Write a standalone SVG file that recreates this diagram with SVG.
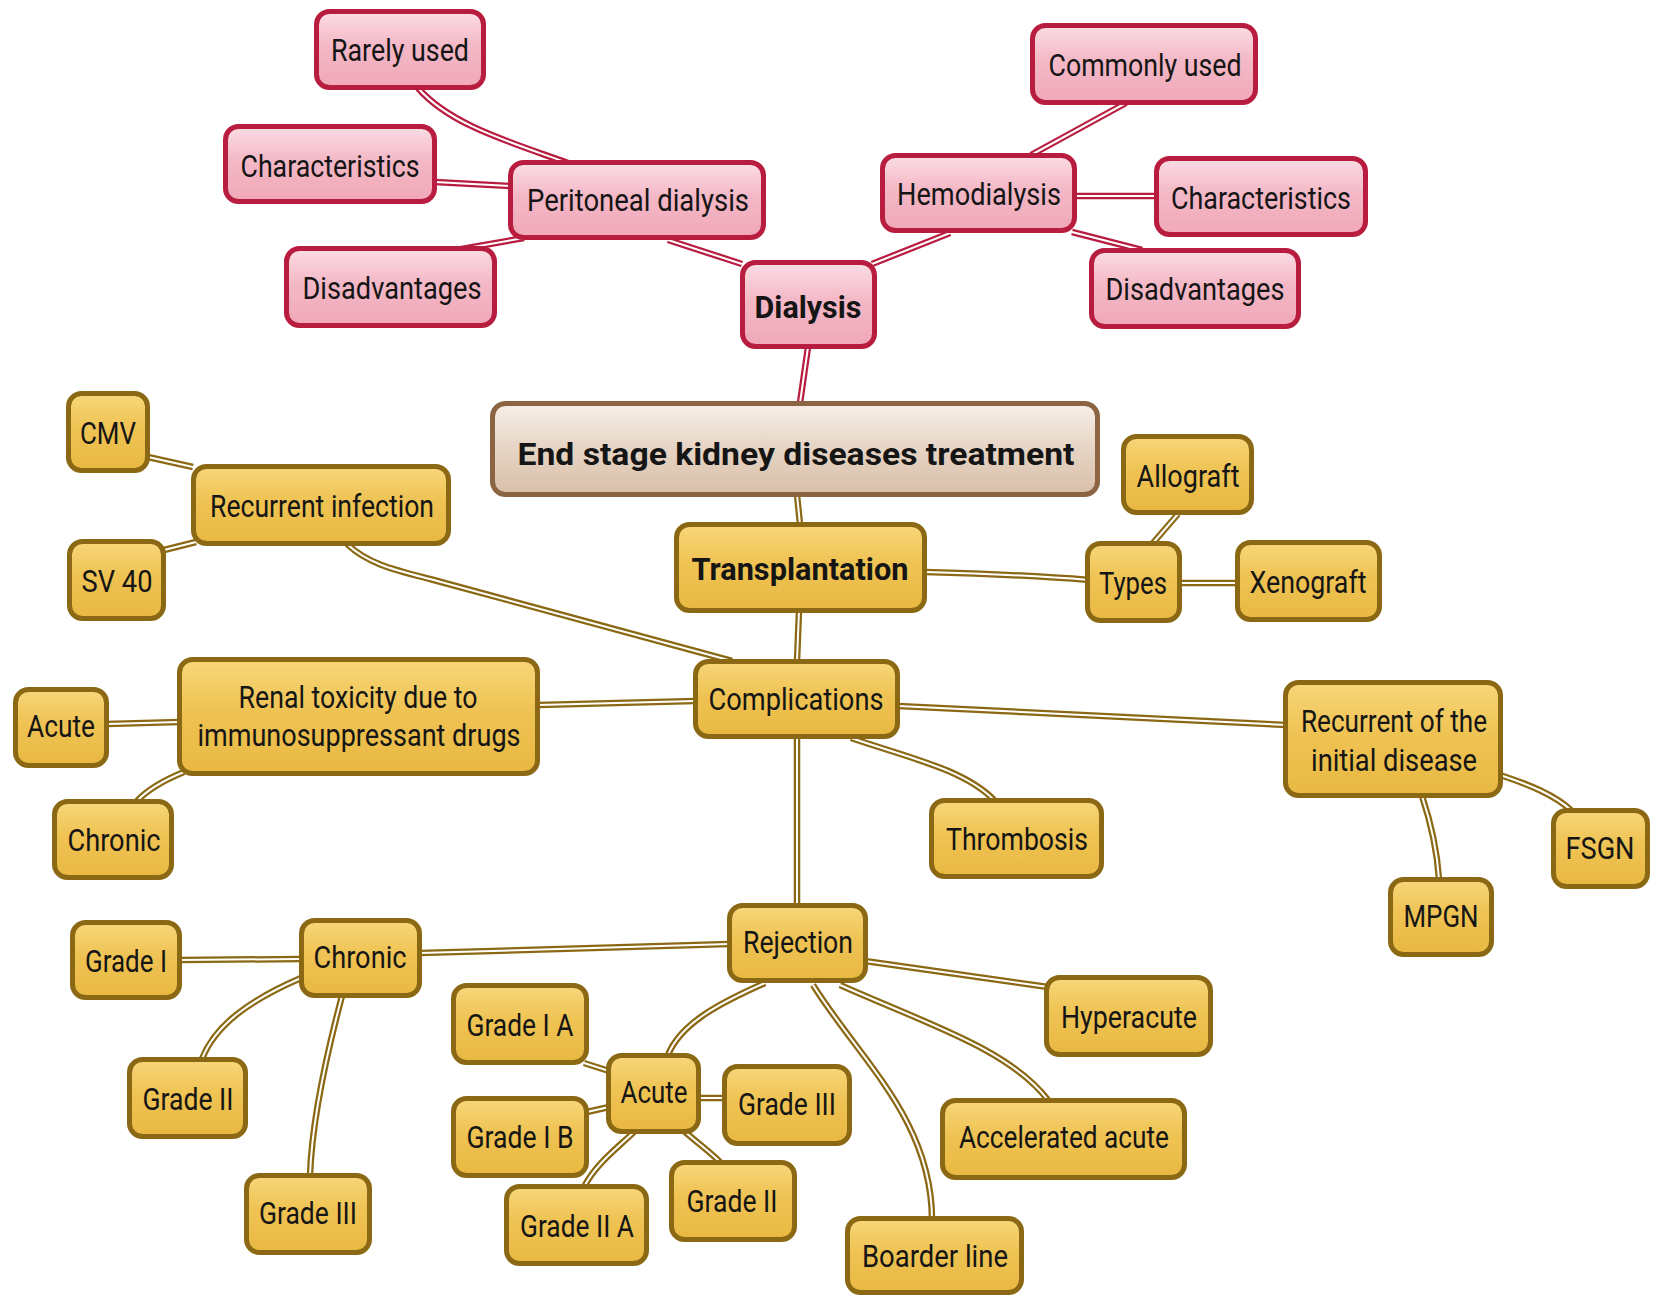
<svg xmlns="http://www.w3.org/2000/svg" width="1658" height="1295" viewBox="0 0 1658 1295">
<defs>
<linearGradient id="gp" x1="0" y1="0" x2="0" y2="1"><stop offset="0" stop-color="#fbdde4"/><stop offset="0.45" stop-color="#f4b8c6"/><stop offset="1" stop-color="#f0a8b8"/></linearGradient>
<linearGradient id="gg" x1="0" y1="0" x2="0" y2="1"><stop offset="0" stop-color="#f8d67a"/><stop offset="0.45" stop-color="#efc353"/><stop offset="1" stop-color="#e8b842"/></linearGradient>
<linearGradient id="gr" x1="0" y1="0" x2="0" y2="1"><stop offset="0" stop-color="#f7efe9"/><stop offset="0.5" stop-color="#e6d4c4"/><stop offset="1" stop-color="#d8bfa9"/></linearGradient>
<style>
.pk{fill:url(#gp);stroke:#b81d3f;stroke-width:5}
.gd{fill:url(#gg);stroke:#8b6914;stroke-width:5}
.rt{fill:url(#gr);stroke:#8b6443;stroke-width:5}
.t{font-family:Roboto,"Liberation Sans",sans-serif;font-size:31px;fill:#151515;text-anchor:middle}
.b{font-weight:bold}
.po{fill:none;stroke:#b81d3f;stroke-width:6.5;stroke-linecap:butt}
.go{fill:none;stroke:#8b6914;stroke-width:6.5;stroke-linecap:butt}
.in{fill:none;stroke:#ffffff;stroke-width:2}
</style>
</defs>
<rect width="1658" height="1295" fill="#ffffff"/>
<g id="connectors">
<g><path class="po" d="M742,264 L668,240"/><path class="in" d="M742,264 L668,240"/></g>
<g><path class="po" d="M872,264 L950,233"/><path class="in" d="M872,264 L950,233"/></g>
<g><path class="po" d="M808,347 L800,403"/><path class="in" d="M808,347 L800,403"/></g>
<g><path class="po" d="M418,88 C450,125 510,142 568,163"/><path class="in" d="M418,88 C450,125 510,142 568,163"/></g>
<g><path class="po" d="M435,182 L512,186"/><path class="in" d="M435,182 L512,186"/></g>
<g><path class="po" d="M456,250 L524,238"/><path class="in" d="M456,250 L524,238"/></g>
<g><path class="po" d="M1126,103 L1031,155"/><path class="in" d="M1126,103 L1031,155"/></g>
<g><path class="po" d="M1075,196 L1156,196"/><path class="in" d="M1075,196 L1156,196"/></g>
<g><path class="po" d="M1072,232 L1142,250"/><path class="in" d="M1072,232 L1142,250"/></g>
<g><path class="go" d="M797,495 L800,524"/><path class="in" d="M797,495 L800,524"/></g>
<g><path class="go" d="M799,611 L797,661"/><path class="in" d="M799,611 L797,661"/></g>
<g><path class="go" d="M925,572 C1000,574 1040,576 1089,580"/><path class="in" d="M925,572 C1000,574 1040,576 1089,580"/></g>
<g><path class="go" d="M1153,543 L1178,514"/><path class="in" d="M1153,543 L1178,514"/></g>
<g><path class="go" d="M1180,583 L1239,583"/><path class="in" d="M1180,583 L1239,583"/></g>
<g><path class="go" d="M347,544 C368,564 395,570 430,579 L732,661"/><path class="in" d="M347,544 C368,564 395,570 430,579 L732,661"/></g>
<g><path class="go" d="M695,701 L538,705"/><path class="in" d="M695,701 L538,705"/></g>
<g><path class="go" d="M179,722 L107,724"/><path class="in" d="M179,722 L107,724"/></g>
<g><path class="go" d="M184,772 Q152,785 137,801"/><path class="in" d="M184,772 Q152,785 137,801"/></g>
<g><path class="go" d="M148,457 L193,467"/><path class="in" d="M148,457 L193,467"/></g>
<g><path class="go" d="M164,550 L196,542"/><path class="in" d="M164,550 L196,542"/></g>
<g><path class="go" d="M898,706 L1287,725"/><path class="in" d="M898,706 L1287,725"/></g>
<g><path class="go" d="M851,738 C910,758 965,770 994,800"/><path class="in" d="M851,738 C910,758 965,770 994,800"/></g>
<g><path class="go" d="M1500,775 C1530,785 1555,795 1572,811"/><path class="in" d="M1500,775 C1530,785 1555,795 1572,811"/></g>
<g><path class="go" d="M1422,796 C1430,820 1437,850 1439,879"/><path class="in" d="M1422,796 C1430,820 1437,850 1439,879"/></g>
<g><path class="go" d="M797,737 L797,905"/><path class="in" d="M797,737 L797,905"/></g>
<g><path class="go" d="M729,944 L420,953"/><path class="in" d="M729,944 L420,953"/></g>
<g><path class="go" d="M180,960 L301,959"/><path class="in" d="M180,960 L301,959"/></g>
<g><path class="go" d="M301,978 C250,1000 215,1025 202,1059"/><path class="in" d="M301,978 C250,1000 215,1025 202,1059"/></g>
<g><path class="go" d="M342,996 C325,1060 312,1120 310,1175"/><path class="in" d="M342,996 C325,1060 312,1120 310,1175"/></g>
<g><path class="go" d="M765,983 C715,1005 680,1025 668,1055"/><path class="in" d="M765,983 C715,1005 680,1025 668,1055"/></g>
<g><path class="go" d="M609,1071 L584,1063"/><path class="in" d="M609,1071 L584,1063"/></g>
<g><path class="go" d="M609,1107 L587,1112"/><path class="in" d="M609,1107 L587,1112"/></g>
<g><path class="go" d="M697,1098 L726,1098"/><path class="in" d="M697,1098 L726,1098"/></g>
<g><path class="go" d="M634,1132 C615,1150 595,1165 584,1187"/><path class="in" d="M634,1132 C615,1150 595,1165 584,1187"/></g>
<g><path class="go" d="M684,1131 C700,1145 710,1152 720,1162"/><path class="in" d="M684,1131 C700,1145 710,1152 720,1162"/></g>
<g><path class="go" d="M865,961 L1048,987"/><path class="in" d="M865,961 L1048,987"/></g>
<g><path class="go" d="M840,985 C930,1025 1010,1050 1048,1100"/><path class="in" d="M840,985 C930,1025 1010,1050 1048,1100"/></g>
<g><path class="go" d="M813,985 C860,1060 932,1120 932,1220"/><path class="in" d="M813,985 C860,1060 932,1120 932,1220"/></g>
</g>
<g id="n-rarely"><rect class="pk" x="316.5" y="11.5" width="167" height="76" rx="13"/><text class="t" x="400" y="61" textLength="138" lengthAdjust="spacingAndGlyphs">Rarely used</text></g>
<g id="n-char-left"><rect class="pk" x="225.5" y="126.5" width="209" height="75" rx="13"/><text class="t" x="330" y="177" textLength="179" lengthAdjust="spacingAndGlyphs">Characteristics</text></g>
<g id="n-peritoneal"><rect class="pk" x="510.5" y="162.5" width="253" height="75" rx="13"/><text class="t" x="638" y="211" textLength="222" lengthAdjust="spacingAndGlyphs">Peritoneal dialysis</text></g>
<g id="n-disadv-left"><rect class="pk" x="286.5" y="248.5" width="208" height="77" rx="13"/><text class="t" x="392" y="299" textLength="179" lengthAdjust="spacingAndGlyphs">Disadvantages</text></g>
<g id="n-dialysis"><rect class="pk" x="742.5" y="262.5" width="132" height="84" rx="13"/><text class="t b" x="808" y="318" font-size="36" textLength="107" lengthAdjust="spacingAndGlyphs">Dialysis</text></g>
<g id="n-common"><rect class="pk" x="1032.5" y="25.5" width="223" height="77" rx="13"/><text class="t" x="1145" y="76" textLength="193" lengthAdjust="spacingAndGlyphs">Commonly used</text></g>
<g id="n-hemo"><rect class="pk" x="882.5" y="155.5" width="192" height="75" rx="13"/><text class="t" x="979" y="205" textLength="164" lengthAdjust="spacingAndGlyphs">Hemodialysis</text></g>
<g id="n-char-right"><rect class="pk" x="1156.5" y="158.5" width="209" height="76" rx="13"/><text class="t" x="1261" y="209" textLength="180" lengthAdjust="spacingAndGlyphs">Characteristics</text></g>
<g id="n-disadv-right"><rect class="pk" x="1091.5" y="250.5" width="207" height="76" rx="13"/><text class="t" x="1195" y="300" textLength="179" lengthAdjust="spacingAndGlyphs">Disadvantages</text></g>
<g id="n-root"><rect class="rt" x="492.5" y="403.5" width="605" height="91" rx="13"/><text class="t b" x="796" y="465" font-size="40" textLength="557" lengthAdjust="spacingAndGlyphs">End stage kidney diseases treatment</text></g>
<g id="n-cmv"><rect class="gd" x="68.5" y="393.5" width="79" height="77" rx="13"/><text class="t" x="108" y="444" textLength="56" lengthAdjust="spacingAndGlyphs">CMV</text></g>
<g id="n-recinf"><rect class="gd" x="193.5" y="466.5" width="255" height="77" rx="13"/><text class="t" x="322" y="517" textLength="224" lengthAdjust="spacingAndGlyphs">Recurrent infection</text></g>
<g id="n-sv40"><rect class="gd" x="69.5" y="541.5" width="94" height="77" rx="13"/><text class="t" x="117" y="592" textLength="71" lengthAdjust="spacingAndGlyphs">SV 40</text></g>
<g id="n-transp"><rect class="gd" x="676.5" y="524.5" width="248" height="86" rx="13"/><text class="t b" x="800" y="580" font-size="37" textLength="217" lengthAdjust="spacingAndGlyphs">Transplantation</text></g>
<g id="n-allograft"><rect class="gd" x="1123.5" y="436.5" width="128" height="76" rx="13"/><text class="t" x="1188" y="487" textLength="103" lengthAdjust="spacingAndGlyphs">Allograft</text></g>
<g id="n-types"><rect class="gd" x="1087.5" y="543.5" width="92" height="77" rx="13"/><text class="t" x="1133" y="594" textLength="68" lengthAdjust="spacingAndGlyphs">Types</text></g>
<g id="n-xeno"><rect class="gd" x="1237.5" y="542.5" width="142" height="77" rx="13"/><text class="t" x="1308" y="593" textLength="117" lengthAdjust="spacingAndGlyphs">Xenograft</text></g>
<g id="n-compl"><rect class="gd" x="695.5" y="661.5" width="202" height="75" rx="13"/><text class="t" x="796" y="710" textLength="175" lengthAdjust="spacingAndGlyphs">Complications</text></g>
<g id="n-renal"><rect class="gd" x="179.5" y="659.5" width="358" height="114" rx="13"/><text class="t" x="358" y="708" textLength="239" lengthAdjust="spacingAndGlyphs">Renal toxicity due to</text><text class="t" x="359" y="746" textLength="323" lengthAdjust="spacingAndGlyphs">immunosuppressant drugs</text></g>
<g id="n-acute-left"><rect class="gd" x="15.5" y="689.5" width="91" height="76" rx="13"/><text class="t" x="61" y="737" textLength="68" lengthAdjust="spacingAndGlyphs">Acute</text></g>
<g id="n-chronic-left"><rect class="gd" x="54.5" y="801.5" width="117" height="76" rx="13"/><text class="t" x="114" y="851" textLength="93" lengthAdjust="spacingAndGlyphs">Chronic</text></g>
<g id="n-thromb"><rect class="gd" x="931.5" y="800.5" width="170" height="76" rx="13"/><text class="t" x="1017" y="850" textLength="142" lengthAdjust="spacingAndGlyphs">Thrombosis</text></g>
<g id="n-recinit"><rect class="gd" x="1285.5" y="682.5" width="215" height="113" rx="13"/><text class="t" x="1394" y="732" textLength="186" lengthAdjust="spacingAndGlyphs">Recurrent of the</text><text class="t" x="1394" y="771" textLength="166" lengthAdjust="spacingAndGlyphs">initial disease</text></g>
<g id="n-fsgn"><rect class="gd" x="1553.5" y="810.5" width="94" height="76" rx="13"/><text class="t" x="1600" y="859" textLength="69" lengthAdjust="spacingAndGlyphs">FSGN</text></g>
<g id="n-mpgn"><rect class="gd" x="1390.5" y="879.5" width="101" height="75" rx="13"/><text class="t" x="1441" y="927" textLength="75" lengthAdjust="spacingAndGlyphs">MPGN</text></g>
<g id="n-rejection"><rect class="gd" x="729.5" y="905.5" width="136" height="75" rx="13"/><text class="t" x="798" y="953" textLength="110" lengthAdjust="spacingAndGlyphs">Rejection</text></g>
<g id="n-chronic-bottom"><rect class="gd" x="301.5" y="920.5" width="118" height="75" rx="13"/><text class="t" x="360" y="968" textLength="93" lengthAdjust="spacingAndGlyphs">Chronic</text></g>
<g id="n-grade1"><rect class="gd" x="72.5" y="922.5" width="107" height="75" rx="13"/><text class="t" x="126" y="972" textLength="82" lengthAdjust="spacingAndGlyphs">Grade I</text></g>
<g id="n-grade2-left"><rect class="gd" x="129.5" y="1059.5" width="116" height="77" rx="13"/><text class="t" x="188" y="1110" textLength="91" lengthAdjust="spacingAndGlyphs">Grade II</text></g>
<g id="n-grade3-left"><rect class="gd" x="246.5" y="1175.5" width="123" height="77" rx="13"/><text class="t" x="308" y="1224" textLength="98" lengthAdjust="spacingAndGlyphs">Grade III</text></g>
<g id="n-grade1a"><rect class="gd" x="453.5" y="985.5" width="133" height="77" rx="13"/><text class="t" x="520" y="1036" textLength="107" lengthAdjust="spacingAndGlyphs">Grade I A</text></g>
<g id="n-acute-bottom"><rect class="gd" x="608.5" y="1055.5" width="90" height="76" rx="13"/><text class="t" x="654" y="1103" textLength="67" lengthAdjust="spacingAndGlyphs">Acute</text></g>
<g id="n-grade3-mid"><rect class="gd" x="724.5" y="1066.5" width="125" height="77" rx="13"/><text class="t" x="787" y="1115" textLength="98" lengthAdjust="spacingAndGlyphs">Grade III</text></g>
<g id="n-grade1b"><rect class="gd" x="453.5" y="1098.5" width="133" height="77" rx="13"/><text class="t" x="520" y="1148" textLength="107" lengthAdjust="spacingAndGlyphs">Grade I B</text></g>
<g id="n-grade2a"><rect class="gd" x="506.5" y="1186.5" width="140" height="77" rx="13"/><text class="t" x="577" y="1237" textLength="114" lengthAdjust="spacingAndGlyphs">Grade II A</text></g>
<g id="n-grade2-mid"><rect class="gd" x="671.5" y="1162.5" width="123" height="77" rx="13"/><text class="t" x="732" y="1212" textLength="91" lengthAdjust="spacingAndGlyphs">Grade II</text></g>
<g id="n-hyper"><rect class="gd" x="1046.5" y="977.5" width="164" height="77" rx="13"/><text class="t" x="1129" y="1028" textLength="136" lengthAdjust="spacingAndGlyphs">Hyperacute</text></g>
<g id="n-accel"><rect class="gd" x="942.5" y="1100.5" width="242" height="77" rx="13"/><text class="t" x="1064" y="1148" textLength="210" lengthAdjust="spacingAndGlyphs">Accelerated acute</text></g>
<g id="n-boarder"><rect class="gd" x="847.5" y="1218.5" width="174" height="74" rx="13"/><text class="t" x="935" y="1267" textLength="146" lengthAdjust="spacingAndGlyphs">Boarder line</text></g>
</svg>
